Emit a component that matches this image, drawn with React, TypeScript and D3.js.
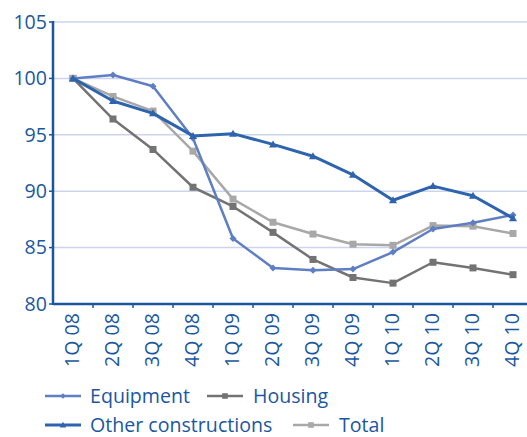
import React from "react";
import * as d3 from "d3";

const categories = ["1Q 08","2Q 08","3Q 08","4Q 08","1Q 09","2Q 09","3Q 09","4Q 09","1Q 10","2Q 10","3Q 10","4Q 10"];
const equipment = [100, 100.3, 99.3, 94.7, 85.8, 83.2, 83.0, 83.1, 84.6, 86.65, 87.2, 87.9];
const housing = [100, 96.4, 93.7, 90.35, 88.65, 86.35, 83.95, 82.35, 81.85, 83.7, 83.2, 82.6];
const otherConstructions = [100, 98.0, 96.9, 94.9, 95.1, 94.15, 93.1, 91.45, 89.2, 90.45, 89.6, 87.6];
const total = [100, 98.4, 97.1, 93.55, 89.3, 87.25, 86.2, 85.3, 85.2, 86.95, 86.9, 86.25];
const yTicks = [80, 85, 90, 95, 100, 105];

const TEXT = "#1b57a0";
const AXIS = "#1a56a0";
const GRID = "#cdd4ee";
const FONT = "'Open Sans', sans-serif";
const FS = 19.6;

type Series = { name: string; values: number[]; color: string; marker: "diamond" | "square" | "triangle"; width: number };

const series: Series[] = [
  { name: "Housing", values: housing, color: "#737373", marker: "square", width: 2.5 },
  { name: "Total", values: total, color: "#a8a8a8", marker: "square", width: 2.5 },
  { name: "Equipment", values: equipment, color: "#5e7fc4", marker: "diamond", width: 2.5 },
  { name: "Other constructions", values: otherConstructions, color: "#2e64ad", marker: "triangle", width: 3 },
];

function Marker({ type, x, y, color, k = 1 }: { type: string; x: number; y: number; color: string; k?: number }) {
  if (type === "square") return <rect x={x - 3.5 * k} y={y - 3.5 * k} width={7 * k} height={7 * k} fill={color} />;
  if (type === "diamond") return <path d={`M${x},${y - 3.5 * k}L${x + 3.5 * k},${y}L${x},${y + 3.5 * k}L${x - 3.5 * k},${y}Z`} fill={color} />;
  return <path d={`M${x},${y - 4 * k}L${x + 4 * k},${y + 3 * k}L${x - 4 * k},${y + 3 * k}Z`} fill={color} />;
}

export default function App() {
  const W = 527, H = 437;
  const x0 = 53, xEnd = 533, yTop = 22, yBot = 304;
  const x = d3.scaleBand<string>().domain(categories).range([x0, xEnd]).padding(0);
  const y = d3.scaleLinear().domain([80, 105]).range([yBot, yTop]);
  const cx = (c: string) => (x(c) as number) + x.bandwidth() / 2;
  const line = d3.line<number>().x((_, i) => cx(categories[i])).y((v) => y(v));

  const legend = [
    { s: series[2], lx: 45, tx: 90, ty: 396 },
    { s: series[0], lx: 207, tx: 253, ty: 396 },
    { s: series[3], lx: 45, tx: 90, ty: 425 },
    { s: series[1], lx: 293, tx: 339, ty: 425 },
  ];

  return (
    <svg width={W} height={H} style={{ position: "absolute", left: 0, top: 0, background: "#fff" }} fontFamily={FONT}>
      {yTicks.filter((t) => t > 80).map((t) => (
        <line key={t} x1={x0} x2={W} y1={y(t)} y2={y(t)} stroke={GRID} strokeWidth={1.5} />
      ))}
      {yTicks.map((t) => (
        <g key={"yt" + t}>
          <line x1={x0 - 4} x2={x0} y1={y(t)} y2={y(t)} stroke={AXIS} strokeWidth={1.5} />
          <text x={x0 - 6} y={y(t)} dy="0.35em" textAnchor="end" fontSize={FS} fill={TEXT}>{t}</text>
        </g>
      ))}
      {categories.map((c, i) => (
        <g key={c}>
          {i > 0 && <line x1={x(c)} x2={x(c)} y1={yBot} y2={yBot + 4} stroke={AXIS} strokeWidth={1.5} />}
          <text transform={`translate(${cx(c) + 6},${yBot + 9}) rotate(-90)`} textAnchor="end" fontSize={FS} fill={TEXT}>{c}</text>
        </g>
      ))}
      {series.map((s) => (
        <g key={s.name}>
          <path d={line(s.values) || ""} fill="none" stroke={s.color} strokeWidth={s.width} strokeLinejoin="round" />
          {s.values.map((v, i) => (
            <Marker key={i} type={s.marker} x={cx(categories[i])} y={y(v)} color={s.color} />
          ))}
        </g>
      ))}
      <line x1={x0} x2={W} y1={yBot} y2={yBot} stroke={AXIS} strokeWidth={2.5} />
      <line x1={x0} x2={x0} y1={yTop - 1} y2={yBot + 1} stroke={AXIS} strokeWidth={2.5} />
      {legend.map(({ s, lx, tx, ty }) => (
        <g key={"lg" + s.name}>
          <line x1={lx} x2={lx + 36} y1={ty} y2={ty} stroke={s.color} strokeWidth={s.width} />
          <Marker type={s.marker} x={lx + 18} y={ty} color={s.color} k={0.8} />
          <text x={tx} y={ty} dy="0.35em" fontSize={FS} fill={TEXT}>{s.name}</text>
        </g>
      ))}
    </svg>
  );
}
